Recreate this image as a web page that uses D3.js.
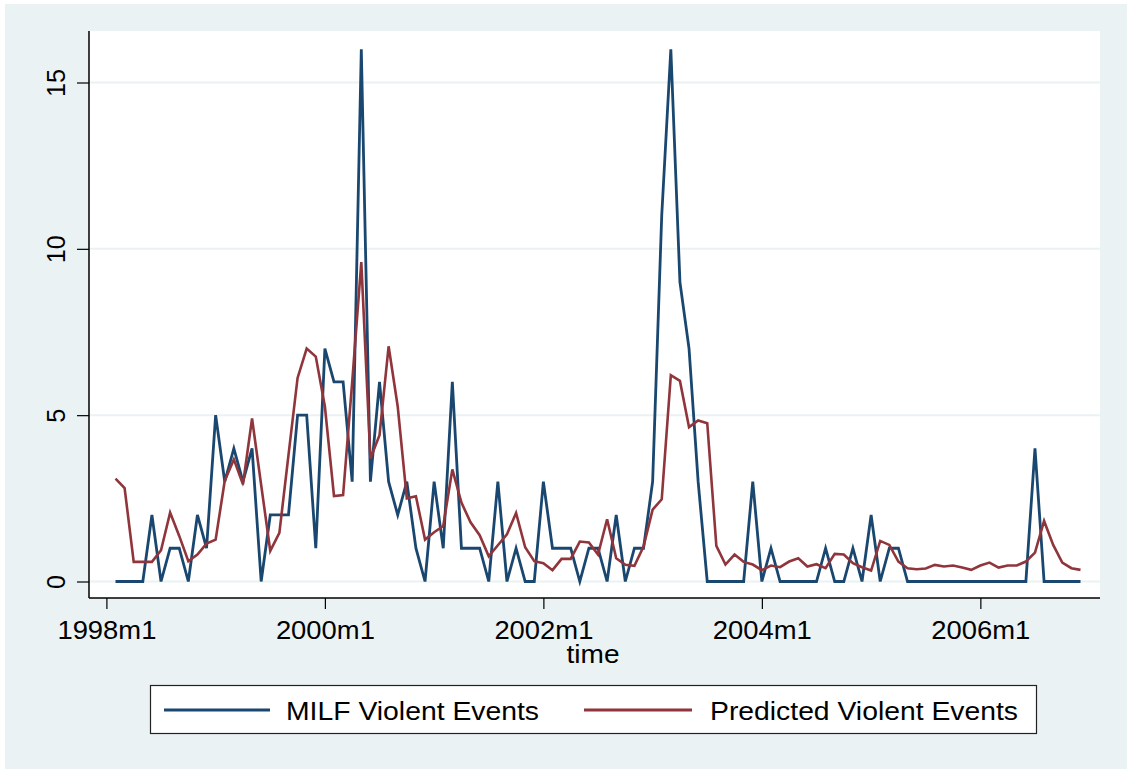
<!DOCTYPE html>
<html>
<head>
<meta charset="utf-8">
<script src="https://cdn.jsdelivr.net/npm/d3@7"></script>
<style>
  html, body { margin: 0; padding: 0; background: #ffffff; }
  svg { display: block; font-family: "Liberation Sans", Arial, sans-serif; }
</style>
</head>
<body>
<svg id="chart" width="1127" height="769"></svg>
<script>
// Monthly series, 1998m2 .. 2006m12 (month index 1 = 1998m2, 0 = 1998m1)
const startIndex = 1;
const milfViolentEvents = [
  0,0,0,0,2,0,1,1,0,2,1,
  5,3,4,3,4,0,2,2,2,5,5,1,
  7,6,6,3,16,3,6,3,2,3,1,0,
  3,1,6,1,1,1,0,3,0,1,0,0,
  3,1,1,1,0,1,1,0,2,0,1,1,
  3,11,16,9,7,3,0,0,0,0,0,3,
  0,1,0,0,0,0,0,1,0,0,1,0,
  2,0,1,1,0,0,0,0,0,0,0,0,
  0,0,0,0,0,0,4,0,0,0,0,0
];
const predictedViolentEvents = [
  3.09,2.81,0.59,0.59,0.59,0.94,2.07,1.37,0.61,0.81,1.14,
  1.26,3.03,3.67,2.92,4.90,2.90,0.92,1.46,3.80,6.12,7.00,6.76,
  5.26,2.57,2.60,6.00,9.60,3.70,4.40,7.07,5.26,2.50,2.56,1.26,
  1.48,1.67,3.37,2.37,1.78,1.39,0.76,1.09,1.42,2.06,1.03,0.61,
  0.55,0.34,0.68,0.68,1.20,1.17,0.81,1.87,0.70,0.50,0.47,1.05,
  2.16,2.47,6.20,6.03,4.64,4.84,4.76,1.07,0.51,0.81,0.59,0.51,
  0.34,0.48,0.43,0.60,0.70,0.45,0.52,0.40,0.83,0.81,0.55,0.43,
  0.33,1.22,1.10,0.60,0.40,0.37,0.39,0.50,0.45,0.48,0.42,0.35,
  0.48,0.57,0.42,0.48,0.48,0.60,0.87,1.82,1.10,0.57,0.40,0.35
];
const xTickIndex = [0, 24, 48, 72, 96];
const xTickLabels = ["1998m1", "2000m1", "2002m1", "2004m1", "2006m1"];
const yTicks = [0, 5, 10, 15];
const seriesNames = ["MILF Violent Events", "Predicted Violent Events"];
const seriesColors = ["#1a476f", "#90353b"];

const svg = d3.select("#chart");
const W = 1127, H = 769;
const plot = { left: 89, right: 1100, top: 31, bottom: 598 };
const FONT = "Liberation Sans, Arial, sans-serif";

// outer graph region
svg.append("rect").attr("x", 0).attr("y", 0).attr("width", W).attr("height", H).attr("fill", "#ffffff");
svg.append("rect").attr("x", 5).attr("y", 4).attr("width", W - 5).attr("height", H - 4).attr("fill", "#eaf2f3");
// plot region
svg.append("rect").attr("x", plot.left).attr("y", plot.top)
  .attr("width", plot.right - plot.left).attr("height", plot.bottom - plot.top).attr("fill", "#ffffff");

const x = d3.scaleLinear().domain([0, 107]).range([106.4, 1080.5]);
const y = d3.scaleLinear().domain([0, 15]).range([581.5, 82.5]);

// gridlines
svg.append("g").selectAll("line").data(yTicks).join("line")
  .attr("x1", plot.left).attr("x2", plot.right)
  .attr("y1", d => y(d)).attr("y2", d => y(d))
  .attr("stroke", "#eaf2f3").attr("stroke-width", 2);

// y axis
const yAxis = d3.axisLeft(y).tickValues(yTicks).tickSize(12).tickPadding(0).tickFormat(d3.format("d"));
const gy = svg.append("g").attr("transform", `translate(${plot.left},0)`).call(yAxis);
gy.select(".domain").remove();
gy.selectAll(".tick line").attr("stroke", "#000").attr("stroke-width", 1.2);
gy.selectAll(".tick text")
  .attr("x", null).attr("dy", null)
  .attr("text-anchor", "middle")
  .attr("transform", "translate(-24,0) rotate(-90)")
  .attr("font-size", 26).attr("fill", "#000")
  .attr("font-family", FONT)
  .attr("textLength", d => String(d).length * 14)
  .attr("lengthAdjust", "spacingAndGlyphs");
svg.append("line").attr("x1", plot.left).attr("x2", plot.left)
  .attr("y1", plot.top).attr("y2", plot.bottom).attr("stroke", "#000").attr("stroke-width", 1.5);

// x axis
const xAxis = d3.axisBottom(x).tickValues(xTickIndex).tickSize(11).tickPadding(12)
  .tickFormat((d, i) => xTickLabels[i]);
const gx = svg.append("g").attr("transform", `translate(0,${plot.bottom})`).call(xAxis);
gx.select(".domain").remove();
gx.selectAll(".tick line").attr("stroke", "#000").attr("stroke-width", 1.2);
gx.selectAll(".tick text").attr("font-size", 26).attr("fill", "#000")
  .attr("font-family", FONT)
  .attr("textLength", 99).attr("lengthAdjust", "spacingAndGlyphs");
svg.append("line").attr("x1", plot.left).attr("x2", plot.right)
  .attr("y1", plot.bottom).attr("y2", plot.bottom).attr("stroke", "#000").attr("stroke-width", 1.5);

svg.append("text").attr("x", 593).attr("y", 663).attr("text-anchor", "middle")
  .attr("font-size", 26).attr("fill", "#000")
  .attr("textLength", 53).attr("lengthAdjust", "spacingAndGlyphs").text("time");

// lines
const line = d3.line().x(d => x(d.i)).y(d => y(d.v));
const blueData = milfViolentEvents.map((v, k) => ({ i: startIndex + k, v }));
const redData = predictedViolentEvents.map((v, k) => ({ i: startIndex + k, v }));
svg.append("path").datum(blueData).attr("d", line).attr("fill", "none")
  .attr("stroke", seriesColors[0]).attr("stroke-width", 2.8).attr("stroke-linejoin", "miter");
svg.append("path").datum(redData).attr("d", line).attr("fill", "none")
  .attr("stroke", seriesColors[1]).attr("stroke-width", 2.6).attr("stroke-linejoin", "miter");

// legend
const lg = svg.append("g");
lg.append("rect").attr("x", 150.5).attr("y", 685.5).attr("width", 886).attr("height", 48)
  .attr("fill", "#ffffff").attr("stroke", "#222").attr("stroke-width", 1.2);
const legendItems = [
  { x1: 164, x2: 270, tx: 286, len: 253 },
  { x1: 584, x2: 692, tx: 710, len: 308 }
];
legendItems.forEach((it, k) => {
  lg.append("line").attr("x1", it.x1).attr("x2", it.x2).attr("y1", 710).attr("y2", 710)
    .attr("stroke", seriesColors[k]).attr("stroke-width", 2.8);
  lg.append("text").attr("x", it.tx).attr("y", 720).attr("font-size", 26).attr("fill", "#000")
    .attr("textLength", it.len).attr("lengthAdjust", "spacingAndGlyphs")
    .text(seriesNames[k]);
});
</script>
</body>
</html>
